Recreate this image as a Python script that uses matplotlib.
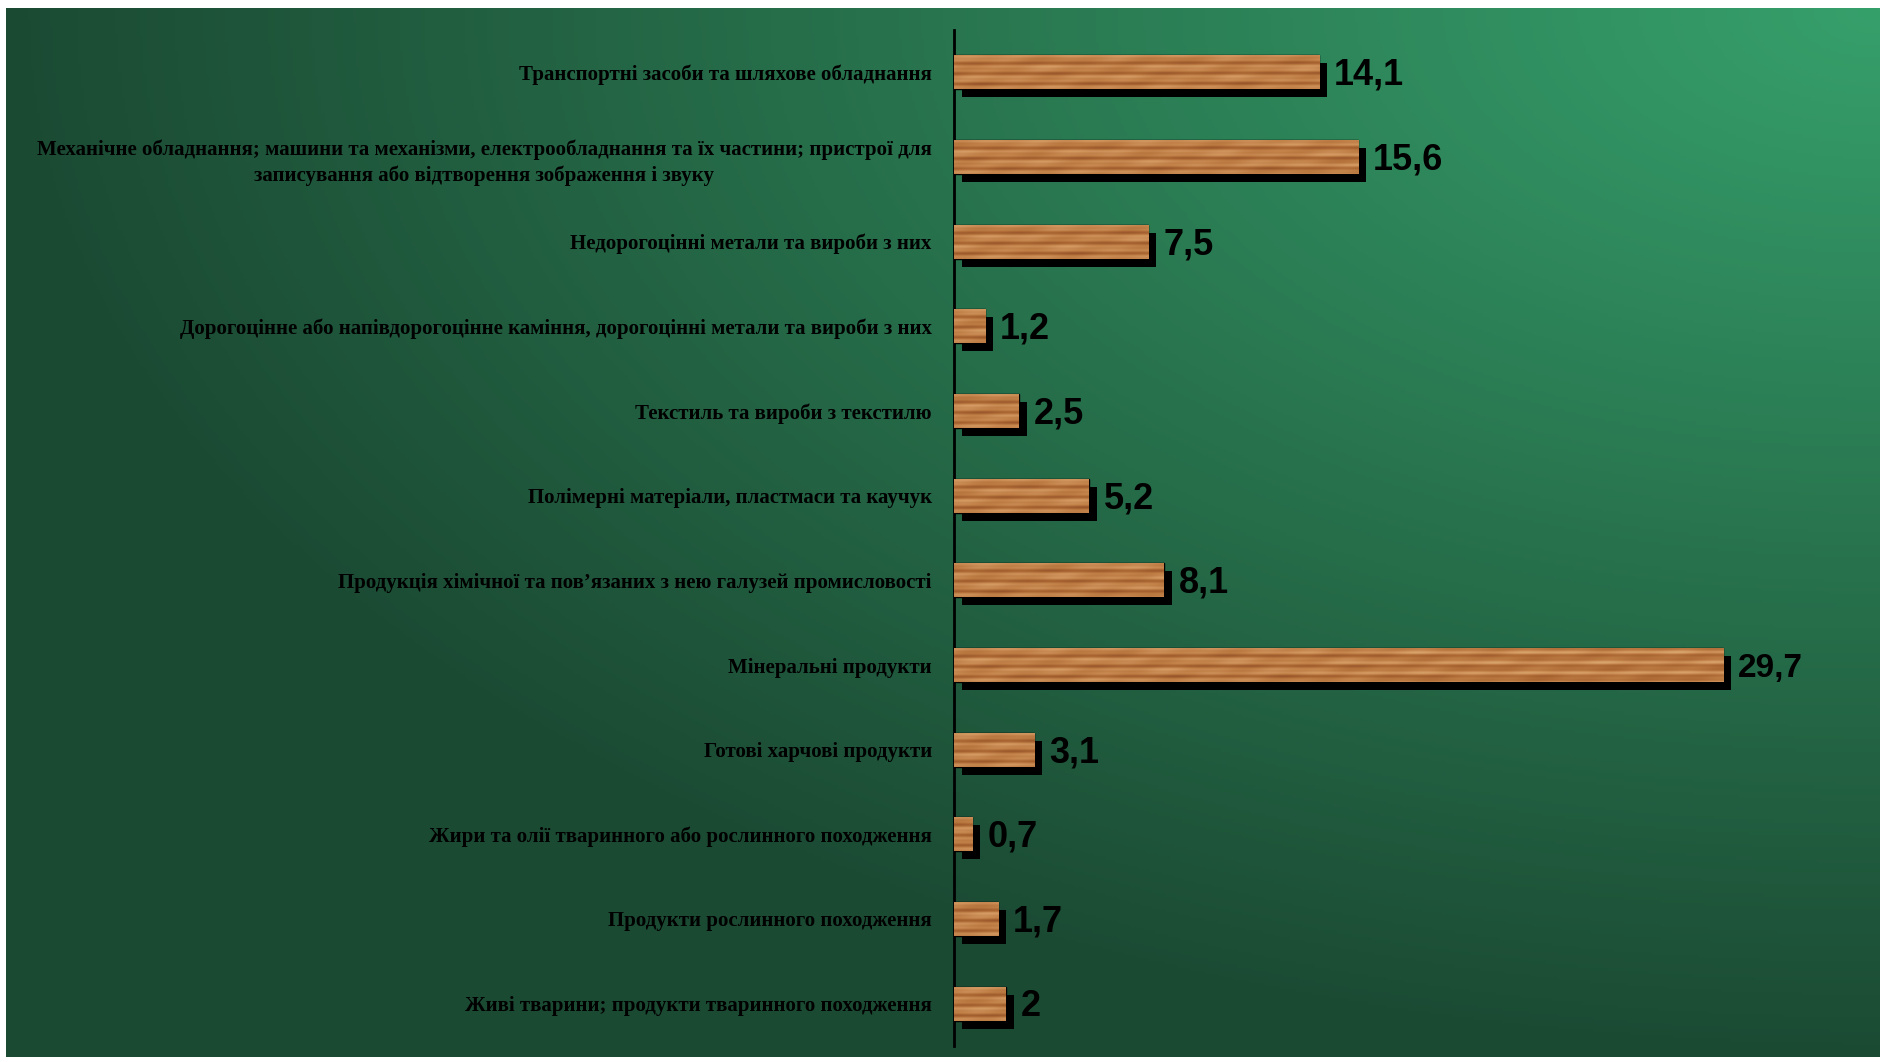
import matplotlib
matplotlib.use("Agg")
import matplotlib.pyplot as plt
import numpy as np
from matplotlib.colors import LinearSegmentedColormap, to_rgb
from matplotlib.transforms import ScaledTranslation

# product groups, top to bottom, and their shares (%)
categories = [
    "Транспортні засоби та шляхове обладнання",
    "Механічне обладнання; машини та механізми, електрообладнання та їх частини; пристрої для\n"
    "записування або відтворення зображення і звуку",
    "Недорогоцінні метали та вироби з них",
    "Дорогоцінне або напівдорогоцінне каміння, дорогоцінні метали та вироби з них",
    "Текстиль та вироби з текстилю",
    "Полімерні матеріали, пластмаси та каучук",
    "Продукція хімічної та пов’язаних з нею галузей промисловості",
    "Мінеральні продукти",
    "Готові харчові продукти",
    "Жири та олії тваринного або рослинного походження",
    "Продукти рослинного походження",
    "Живі тварини; продукти тваринного походження",
]
shares = [14.1, 15.6, 7.5, 1.2, 2.5, 5.2, 8.1, 29.7, 3.1, 0.7, 1.7, 2.0]
share_labels = ["14,1", "15,6", "7,5", "1,2", "2,5", "5,2", "8,1", "29,7", "3,1", "0,7", "1,7", "2"]

W, H = 1886, 1062
fig = plt.figure(figsize=(W / 100, H / 100), dpi=100)
fig.patch.set_facecolor("white")

# green backdrop, bright in the upper right corner fading to dark
bg = fig.add_axes([6 / W, 1 - 1057 / H, (1880 - 6) / W, (1057 - 8) / H])
bg.set_axis_off()
u, v = np.meshgrid(np.linspace(0, 1, 600), np.linspace(0, 1, 340))
d = np.clip(np.sqrt((1 - u) ** 2 + v ** 2), 0, 1)
light = np.array(to_rgb("#36a06b"))
dark = np.array(to_rgb("#1b4a33"))
grad = light[None, None, :] * (1 - d[..., None]) + dark[None, None, :] * d[..., None]
bg.imshow(grad, aspect="auto", extent=(0, 1, 0, 1), origin="upper")
bg.set_xlim(0, 1)
bg.set_ylim(0, 1)

ax = fig.add_axes([954 / W, 1 - 1046 / H, (1880 - 954) / W, 1016 / H])
ax.patch.set_alpha(0)
XMAX = 35.75
ax.set_xlim(0, XMAX)
ax.set_ylim(len(shares) - 0.5, -0.5)

# wood grain used to fill each bar
wood = LinearSegmentedColormap.from_list(
    "wood", ["#94522a", "#ad6934", "#bf7e46", "#d39a62", "#e2b47f"])
TEX_W = 60.0
gx, gy = np.meshgrid(np.linspace(0, TEX_W, 1800), np.linspace(0, 1, 40))
grain = (0.45
         + 0.20 * np.sin(2 * np.pi * 3.2 * gy + 0.5 * np.sin(gx * 0.18))
         + 0.12 * np.sin(2 * np.pi * 6.5 * gy + gx * 0.07 + 1.0)
         + 0.07 * np.sin(gx * 1.3) * np.sin(2 * np.pi * 2 * gy)
         + 0.05 * np.sin(gx * 3.1 + gy * 9))

ypos = np.arange(len(shares))
bh = 0.40
shadow = ax.transData + ScaledTranslation(8 / 100, -8 / 100, fig.dpi_scale_trans)
ax.barh(ypos, shares, height=bh, color="black", transform=shadow, zorder=2)
bars = ax.barh(ypos, shares, height=bh, color="#b87a45", edgecolor="black",
               linewidth=1.0, zorder=3)
for i, (b, val) in enumerate(zip(bars, shares)):
    c0 = (i * 97) % 300
    ncol = max(2, int(val / TEX_W * 1800))
    im = ax.imshow(grain[:, c0:c0 + ncol], cmap=wood, aspect="auto",
                   extent=(0, val, i + bh / 2, i - bh / 2), zorder=3.5,
                   interpolation="bilinear", vmin=0, vmax=1)
    im.set_clip_path(b)

# value labels right of the shadows
to_px = ScaledTranslation(15 / 100, -3 / 100, fig.dpi_scale_trans)
for i, (val, txt) in enumerate(zip(shares, share_labels)):
    size = 24 if val > 20 else 26
    ax.text(val, i, txt, transform=ax.transData + to_px, ha="left", va="center",
            fontsize=size, fontweight="bold", family="Liberation Sans",
            color="black", zorder=4)

ax.set_yticks(ypos)
ax.set_yticklabels(categories, fontsize=15, fontweight="bold",
                   family="Liberation Serif", color="black",
                   multialignment="center", linespacing=1.4)
ax.tick_params(axis="y", length=0, pad=16)
ax.set_xticks([])
for s in ["top", "right", "bottom"]:
    ax.spines[s].set_visible(False)
ax.spines["left"].set_linewidth(2)
ax.spines["left"].set_color("black")
ax.set_xlim(0, XMAX)

fig.savefig("out.png", dpi=100)
